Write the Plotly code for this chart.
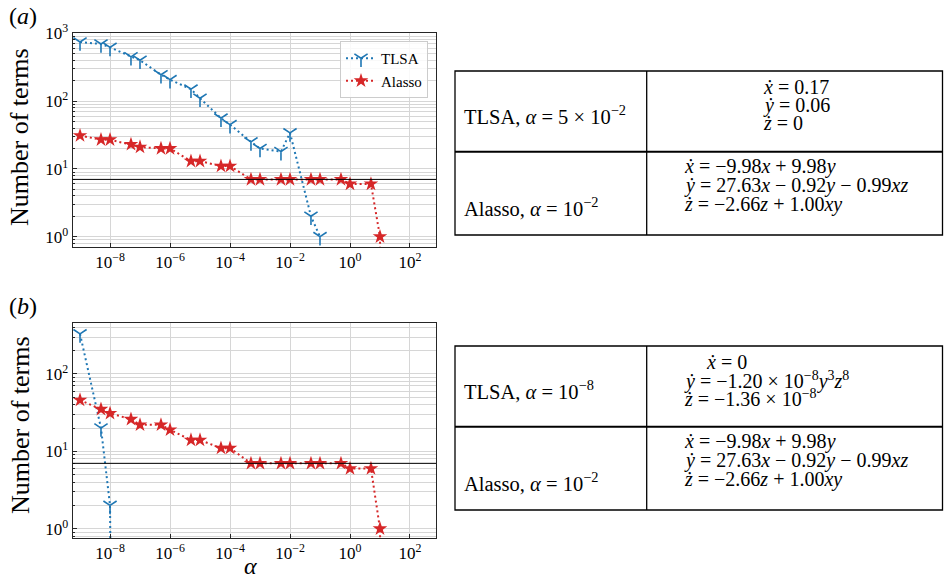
import plotly.graph_objects as go

# ---------------- data ----------------
alpha = [1e-9, 5e-9, 1e-8, 5e-8, 1e-7, 5e-7, 1e-6, 5e-6, 1e-5, 5e-5, 1e-4,
         5e-4, 1e-3, 5e-3, 1e-2, 5e-2, 1e-1, 5e-1, 1, 5, 10, 50]

tlsa_a_alpha = alpha[:17]
tlsa_a = [745, 695, 620, 450, 400, 245, 207, 150, 110, 56, 45, 25, 20, 18, 34, 2, 1]
alasso_a = [31, 27, 27, 23, 21, 20, 20, 13, 13, 11, 11, 7, 7, 7, 7, 7, 7, 7, 6, 6, 1, 0]

tlsa_b_alpha = alpha[:4]
tlsa_b = [330, 20, 2, 0]
alasso_b = [46, 35, 31, 26, 22, 22, 19, 14, 14, 11, 11, 7, 7, 7, 7, 7, 7, 7, 6, 6, 1, 0]

true_terms = 7

x_tickvals = [1e-8, 1e-6, 1e-4, 1e-2, 1e0, 1e2]
x_ticktext = ["10<sup>−8</sup>", "10<sup>−6</sup>", "10<sup>−4</sup>",
              "10<sup>−2</sup>", "10<sup>0</sup>", "10<sup>2</sup>"]
y_tickvals = [1, 10, 100, 1000]
y_ticktext = ["10<sup>0</sup>", "10<sup>1</sup>", "10<sup>2</sup>", "10<sup>3</sup>"]

table_a_left = ["TLSA, <i>α</i> = 5 × 10<sup>−2</sup>", "Alasso, <i>α</i> = 10<sup>−2</sup>"]
table_a_tlsa = ["<i>x\u0307</i> = 0.17", "<i>y\u0307</i> = 0.06", "<i>z\u0307</i> = 0"]
table_alasso = ["<i>x\u0307</i> = −9.98<i>x</i> + 9.98<i>y</i>",
                "<i>y\u0307</i> = 27.63<i>x</i> − 0.92<i>y</i> − 0.99<i>xz</i>",
                "<i>z\u0307</i> = −2.66<i>z</i> + 1.00<i>xy</i>"]
table_b_left = ["TLSA, <i>α</i> = 10<sup>−8</sup>", "Alasso, <i>α</i> = 10<sup>−2</sup>"]
table_b_tlsa = ["<i>x\u0307</i> = 0",
                "<i>y\u0307</i> = −1.20 × 10<sup>−8</sup><i>y</i><sup>3</sup><i>z</i><sup>8</sup>",
                "<i>z\u0307</i> = −1.36 × 10<sup>−8</sup>"]

# ---------------- styling ----------------
W, H = 944, 581
FONT = "Liberation Serif"
BLUE = "#1f77b4"
RED = "#d62728"
GRID = "#d6d6d6"
AX = "#262626"


def X(px):
    return px / W


def Y(py):
    return 1 - py / H


def disp(vals):
    # zero counts cannot be shown on a log axis: send them far below the axis
    return [v if v > 0 else 1e-30 for v in vals]


fig = go.Figure()

line_style = dict(dash="2px,3px", width=2)
tri = dict(symbol="y-down", size=11, color=BLUE, line=dict(color=BLUE, width=1.6))
star = dict(symbol="star", size=11, color=RED, line=dict(width=0))

fig.add_trace(go.Scatter(
    x=tlsa_a_alpha, y=disp(tlsa_a), mode="lines+markers", name="TLSA",
    line=dict(color=BLUE, **line_style), marker=tri, xaxis="x", yaxis="y"))
fig.add_trace(go.Scatter(
    x=alpha, y=disp(alasso_a), mode="lines+markers", name="Alasso",
    line=dict(color=RED, **line_style), marker=star, xaxis="x", yaxis="y"))
fig.add_trace(go.Scatter(
    x=tlsa_b_alpha, y=disp(tlsa_b), mode="lines+markers", name="TLSA", showlegend=False,
    line=dict(color=BLUE, **line_style), marker=tri, xaxis="x2", yaxis="y2"))
fig.add_trace(go.Scatter(
    x=alpha, y=disp(alasso_b), mode="lines+markers", name="Alasso", showlegend=False,
    line=dict(color=RED, **line_style), marker=star, xaxis="x2", yaxis="y2"))

minor_vals = [m * 10 ** k for k in range(-1, 4) for m in range(2, 10)]

common_x = dict(type="log", range=[-9.244, 2.867], domain=[X(72.7), X(436)],
                tickmode="array", tickvals=x_tickvals, ticktext=x_ticktext,
                ticks="inside", ticklen=4, tickcolor=AX, showline=True, linecolor=AX,
                linewidth=1, mirror=True, showgrid=True, gridcolor=GRID, gridwidth=1,
                zeroline=False, automargin=False,
                tickfont=dict(family=FONT, size=17, color="black"))
common_y = dict(type="log", tickmode="array", tickvals=y_tickvals, ticktext=y_ticktext,
                ticks="inside", ticklen=4, tickcolor=AX, showline=True, linecolor=AX,
                linewidth=1, mirror=True, showgrid=True, gridcolor=GRID, gridwidth=1,
                zeroline=False, automargin=False,
                tickfont=dict(family=FONT, size=17, color="black"),
                minor=dict(tickmode="array", tickvals=minor_vals, ticks="inside",
                           ticklen=2, tickcolor=AX, showgrid=True, gridcolor=GRID,
                           gridwidth=1))

fig.update_layout(
    width=W, height=H, autosize=False,
    margin=dict(l=0, r=0, t=0, b=0, pad=0),
    paper_bgcolor="white", plot_bgcolor="white",
    font=dict(family=FONT, color="black"),
    xaxis=dict(anchor="y", **common_x),
    yaxis=dict(anchor="x", domain=[Y(247), Y(33.3)], range=[-0.152, 3.0], **common_y),
    xaxis2=dict(anchor="y2", **common_x),
    yaxis2=dict(anchor="x2", domain=[Y(538), Y(323.3)], range=[-0.12, 2.655], **common_y),
    legend=dict(x=X(428), y=Y(41), xanchor="right", yanchor="top",
                bgcolor="rgba(255,255,255,0.85)", bordercolor="#cccccc", borderwidth=1,
                font=dict(family=FONT, size=15, color="black"),
                itemwidth=30, tracegroupgap=0),
)

shapes = []
# true-number-of-terms reference lines
for yref in ("y", "y2"):
    xr = "x domain" if yref == "y" else "x2 domain"
    shapes.append(dict(type="line", xref=xr, yref=yref, x0=0, x1=1,
                       y0=true_terms, y1=true_terms, line=dict(color="black", width=1)))

# tables
for top, bot, mid in ((71, 235, 151.7), (346, 510, 426.7)):
    shapes.append(dict(type="rect", xref="paper", yref="paper", x0=X(455), x1=X(942.5),
                       y0=Y(bot), y1=Y(top), line=dict(color="black", width=1.3)))
    shapes.append(dict(type="line", xref="paper", yref="paper", x0=X(646.7), x1=X(646.7),
                       y0=Y(bot), y1=Y(top), line=dict(color="black", width=1.3)))
    shapes.append(dict(type="line", xref="paper", yref="paper", x0=X(455), x1=X(942.5),
                       y0=Y(mid), y1=Y(mid), line=dict(color="black", width=2)))
fig.update_layout(shapes=shapes)

ann = []


def text(s, px, py, size=20, xanchor="left", angle=0):
    ann.append(dict(text=s, x=X(px), y=Y(py), xref="paper", yref="paper",
                    xanchor=xanchor, yanchor="middle", showarrow=False, textangle=angle,
                    borderpad=0, font=dict(family=FONT, size=size, color="black")))


text("(<i>a</i>)", 8, 16, size=24)
text("(<i>b</i>)", 8, 306, size=24)
text("Number of terms", 20, 137, size=26, xanchor="center", angle=-90)
text("Number of terms", 20, 425, size=26, xanchor="center", angle=-90)
text("<i>α</i>", 250, 566, size=24, xanchor="center")

# table (a)
text(table_a_left[0], 463, 115, size=20.5)
text(table_a_left[1], 463, 207, size=20.5)
for s, py in zip(table_a_tlsa, (86.7, 105, 122.7)):
    text(s, 762, py)
for s, py in zip(table_alasso, (166, 185.7, 204)):
    text(s, 683, py)

# table (b)
text(table_b_left[0], 463, 390, size=20.5)
text(table_b_left[1], 463, 482, size=20.5)
for s, px, py in zip(table_b_tlsa, (705, 683, 683), (361.7, 380, 397.7)):
    text(s, px, py)
for s, py in zip(table_alasso, (441, 460.7, 479)):
    text(s, 683, py)

fig.update_layout(annotations=ann)

fig.write_html(
    "out.html",
    config={"displayModeBar": False},
    post_script="document.body.style.margin='0';document.body.style.padding='0';"
                "document.body.style.overflow='hidden';",
)
